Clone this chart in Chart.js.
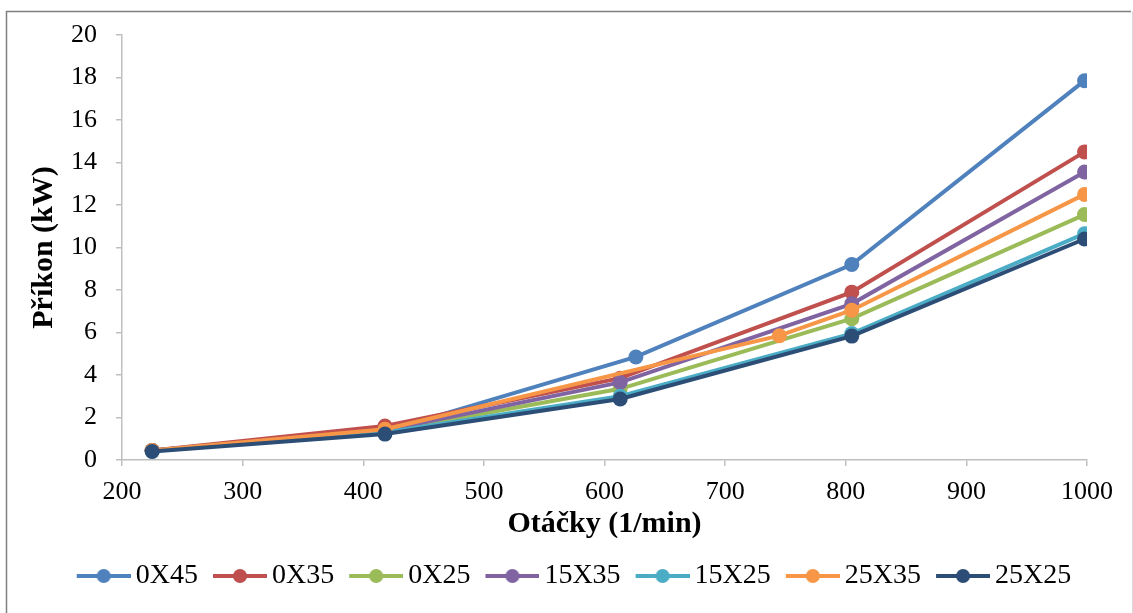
<!DOCTYPE html>
<html>
<head>
<meta charset="utf-8">
<script src="https://cdn.jsdelivr.net/npm/chart.js@4/dist/chart.umd.min.js"></script>
<style>
    body { margin: 0; background: #ffffff; }
    #wrap { width: 1133px; height: 613px; }
</style>
</head>
<body>
<div id="wrap"><canvas id="line-chart" width="1133" height="613"></canvas></div>
<script>
// otacky (1/min) pro kazdou serii
const rpm0X45 = [225, 418, 626, 805, 998];
const rpmOther = [225, 418, 613, 805, 998];
const rpm25X35 = [225, 418, 745, 805, 998];

// prikon (kW)
const p0X45 = [0.45, 1.35, 4.85, 9.2, 17.85];
const p0X35 = [0.45, 1.6, 3.85, 7.9, 14.5];
const p0X25 = [0.45, 1.35, 3.35, 6.65, 11.55];
const p15X35 = [0.45, 1.4, 3.65, 7.35, 13.55];
const p15X25 = [0.42, 1.3, 3.0, 5.95, 10.65];
const p25X35 = [0.45, 1.45, 5.85, 7.05, 12.5];
const p25X25 = [0.4, 1.22, 2.87, 5.83, 10.4];

const seriesNames = ["0X45", "0X35", "0X25", "15X35", "15X25", "25X35", "25X25"];
const seriesColors = ["#4F81BD", "#C0504D", "#9BBB59", "#8064A2", "#4BACC6", "#F79646", "#2C4D75"];
const seriesX = [rpm0X45, rpmOther, rpmOther, rpmOther, rpmOther, rpm25X35, rpmOther];
const seriesY = [p0X45, p0X35, p0X25, p15X35, p15X25, p25X35, p25X25];

const FONT = "'Liberation Serif', 'Times New Roman', serif";

function toPoints(xs, ys) {
    return xs.map((x, i) => ({ x: x, y: ys[i] }));
}

// ikonka do legendy: cara s kolecem (posunuta, aby sedely mezery)
function legendIcon(color) {
    const c = document.createElement("canvas");
    c.width = 70;
    c.height = 16;
    const g = c.getContext("2d");
    g.strokeStyle = color;
    g.lineWidth = 4;
    g.beginPath();
    g.moveTo(16, 8);
    g.lineTo(70, 8);
    g.stroke();
    g.fillStyle = color;
    g.beginPath();
    g.arc(43, 8, 7, 0, Math.PI * 2);
    g.fill();
    return c;
}

// ramecek kolem grafu
const framePlugin = {
    id: "frame",
    beforeDraw(chart) {
        const ctx = chart.ctx;
        ctx.save();
        ctx.lineWidth = 1.5;
        ctx.strokeStyle = "#7f7f7f";
        ctx.beginPath();
        ctx.moveTo(6.5, 613);
        ctx.lineTo(6.5, 11.5);
        ctx.lineTo(1131, 11.5);
        ctx.stroke();
        ctx.strokeStyle = "#d9d9d9";
        ctx.lineWidth = 1;
        ctx.beginPath();
        ctx.moveTo(1132.5, 11.5);
        ctx.lineTo(1132.5, 613);
        ctx.stroke();
        ctx.restore();
    },
};

// posledni serie se kresli navrch (jako v Excelu)
const datasets = seriesNames.map((name, i) => ({
    label: name,
    data: toPoints(seriesX[i], seriesY[i]),
    borderColor: seriesColors[i],
    backgroundColor: seriesColors[i],
    borderWidth: 4,
    pointRadius: 7.5,
    pointHoverRadius: 7.5,
    pointBorderWidth: 0,
    tension: 0,
    order: seriesNames.length - i,
}));

const axisGrid = {
    display: true,
    drawOnChartArea: false,
    drawTicks: true,
    tickLength: 6,
    color: "#bfbfbf",
    lineWidth: 1.5,
};

const lineChart = document.querySelector("#line-chart").getContext("2d");
const objLineChart = new Chart(lineChart, {
    type: "line",
    data: { datasets: datasets },
    plugins: [framePlugin],
    options: {
        responsive: false,
        animation: false,
        layout: {
            padding: { top: 35, right: 0, left: 8, bottom: 13 },
        },
        scales: {
            x: {
                type: "linear",
                min: 200,
                max: 1000,
                afterFit: (scale) => { scale.height = 94; },
                ticks: {
                    stepSize: 100,
                    color: "#000000",
                    padding: 11,
                    font: { family: FONT, size: 26 },
                    callback: (v) => String(v),
                },
                grid: axisGrid,
                border: { color: "#bfbfbf", width: 1.5 },
                title: {
                    display: true,
                    text: "Otáčky (1/min)",
                    color: "#000000",
                    padding: { top: 0, bottom: 12 },
                    font: { family: FONT, size: 30, weight: "bold" },
                },
            },
            y: {
                min: 0,
                max: 20,
                afterFit: (scale) => { scale.width = 114; },
                ticks: {
                    stepSize: 2,
                    color: "#000000",
                    padding: 19,
                    font: { family: FONT, size: 26 },
                },
                grid: axisGrid,
                border: { color: "#bfbfbf", width: 1.5 },
                title: {
                    display: true,
                    text: "Příkon (kW)",
                    color: "#000000",
                    padding: { top: 18, bottom: 0 },
                    font: { family: FONT, size: 30, weight: "bold" },
                },
            },
            // prazdna osa vpravo, jen drzi misto
            yRight: {
                position: "right",
                display: true,
                afterFit: (scale) => { scale.width = 46; },
                ticks: { display: false },
                grid: { display: false },
                border: { display: false },
            },
        },
        plugins: {
            legend: {
                position: "bottom",
                labels: {
                    color: "#000000",
                    font: { family: FONT, size: 28 },
                    usePointStyle: true,
                    pointStyleWidth: 52,
                    padding: 8,
                    generateLabels: (chart) =>
                        chart.data.datasets.map((ds, i) => ({
                            text: ds.label,
                            fillStyle: ds.borderColor,
                            strokeStyle: ds.borderColor,
                            fontColor: "#000000",
                            lineWidth: 0,
                            pointStyle: legendIcon(ds.borderColor),
                            hidden: false,
                            datasetIndex: i,
                        })),
                },
            },
            tooltip: { enabled: false },
        },
    },
});
</script>
</body>
</html>
